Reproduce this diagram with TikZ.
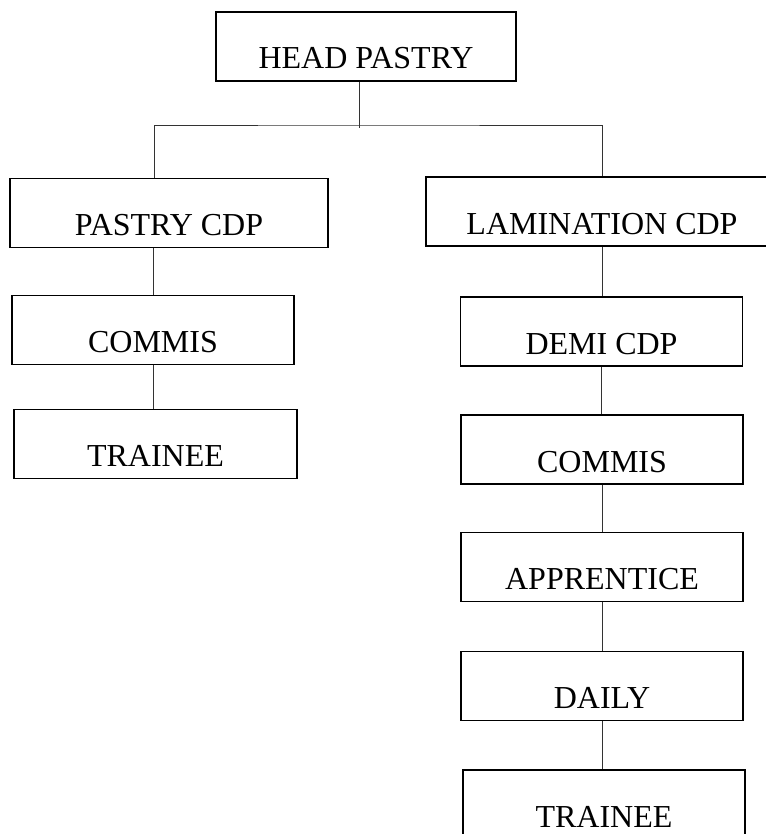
\documentclass[tikz,border=0pt]{standalone}
\usepackage{fontspec}
\setmainfont{Liberation Serif}
\usepackage{tikz}

\begin{document}
\begin{tikzpicture}[x=0.75pt, y=-0.75pt,
    box/.style={draw, line width=1.4pt, rectangle, inner xsep=0pt, inner ysep=0pt,
        minimum height=51.75pt, text height=42.75pt, text depth=9pt,
        font=\fontsize{24}{28}\selectfont},
    link/.style={line width=0.6pt, black!80}]
    \useasboundingbox (0,0) rectangle (766,834);

    \node[box, minimum width=225pt] (head) at (366,46.5) {HEAD PASTRY};

    \node[box, minimum width=238.5pt] (pcdp) at (169,213) {PASTRY CDP};
    \node[box, minimum width=211.5pt] (pcommis) at (153,330) {COMMIS};
    \node[box, minimum width=212.25pt] (ptrainee) at (155.5,444) {TRAINEE};

    \node[box, minimum width=264pt] (lcdp) at (602,211.5) {LAMINATION CDP};
    \node[box, minimum width=211.5pt] (demi) at (601.5,331.5) {DEMI CDP};
    \node[box, minimum width=211.5pt] (lcommis) at (602,449.5) {COMMIS};
    \node[box, minimum width=211.5pt] (appr) at (602,567) {APPRENTICE};
    \node[box, minimum width=211.5pt] (daily) at (602,686) {DAILY};
    \node[box, minimum width=211.5pt] (ltrainee) at (604,804.5) {TRAINEE};

    \coordinate (bus) at (359,125);
    \draw[link] (head.south -| bus) -- ([yshift=-2.25pt]bus);
    \draw[link] ([xshift=-11.25pt]pcdp.north) |- (bus) -| (lcdp.north);

    \draw[link] (pcommis.north |- pcdp.south) -- (pcommis.north);
    \draw[link] (pcommis.south) -- (pcommis.south |- ptrainee.north);
    \foreach \a/\b in {lcdp/demi, demi/lcommis, lcommis/appr, appr/daily, daily/ltrainee}
        \draw[link] (\a.south) -- (\a.south |- \b.north);
\end{tikzpicture}
\end{document}
